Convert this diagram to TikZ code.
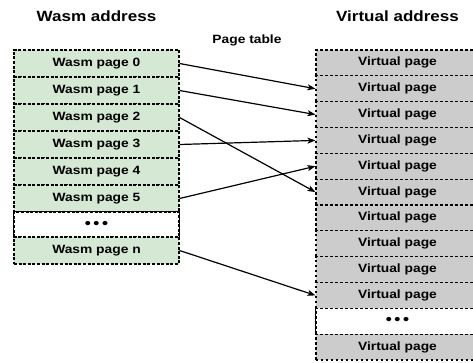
\documentclass[tikz,border=0pt]{standalone}
\usepackage{fontspec}
\setmainfont[FakeStretch=1.15]{Liberation Sans}
\usetikzlibrary{arrows.meta}
\definecolor{wgreen}{HTML}{D5E8D4}
\definecolor{vgray}{HTML}{CCCCCC}
\begin{document}
\begin{tikzpicture}[x=1pt,y=-1pt,
  lbl/.style={font=\bfseries\fontsize{12}{14}\selectfont},
  ttl/.style={font=\bfseries\fontsize{14.8}{17}\selectfont},
  dots/.style={font=\bfseries\fontsize{15}{15}\selectfont},
  wrow/.style={lbl,rectangle,draw=black,line width=1.1pt,dash pattern=on 3pt off 1.6pt,fill=wgreen,minimum width=165pt,minimum height=27pt,inner sep=0pt},
  vrow/.style={lbl,rectangle,draw=black,line width=1.1pt,dash pattern=on 2.4pt off 2.6pt,fill=vgray,minimum width=163pt,minimum height=25.83pt,inner sep=0pt},
  side/.style={line width=1.4pt,solid},
  arr/.style={line width=1.2pt,-{Stealth[length=8pt,width=6pt,inset=2pt]}}
]
\useasboundingbox (0,0) rectangle (473,362);
\clip (0,0) rectangle (473,362);
% titles
\node[ttl] (tw) at (96.5,16) {Wasm address};
\node[ttl] (tv) at (397.5,16) {Virtual address};
\node[lbl] (tp) at (247,40) {Page table};
% wasm column
\node[wrow] (w0) at (96.5,63.5) {Wasm page 0};
\node[wrow] (w1) at (96.5,90.5) {Wasm page 1};
\node[wrow] (w2) at (96.5,117.5) {Wasm page 2};
\node[wrow] (w3) at (96.5,144.5) {Wasm page 3};
\node[wrow] (w4) at (96.5,171.5) {Wasm page 4};
\node[wrow] (w5) at (96.5,198.5) {Wasm page 5};
\node[wrow,dots,fill=white,minimum height=25pt] (wd) at (96.5,224.5) {•\,•\,•};
\node[wrow] (wn) at (96.5,250.5) {Wasm page n};
\draw[side] (wd.north west) -- (wd.south west);
\draw[side] (wd.north east) -- (wd.south east);
% virtual column
\foreach \i in {0,...,9}{
  \node[vrow] (v\i) at (397.5,{50+25.83*(\i+0.5)}) {Virtual page};
}
\node[vrow,dots,fill=white] (vd) at (397.5,{50+25.83*10.5}) {•\,•\,•};
\node[vrow] (vl) at (397.5,{50+25.83*11.5}) {Virtual page};
\draw[side] (vd.north west) -- (vd.south west);
% arrows
\draw[arr] (w0.east) -- (v1.west);
\draw[arr] (w1.east) -- (v2.west);
\draw[arr] (w2.east) -- (v5.west);
\draw[arr] (w3.east) -- (v3.west);
\draw[arr] (w5.east) -- (v4.west);
\draw[arr] (wn.east) -- (v9.west);
\end{tikzpicture}
\end{document}
